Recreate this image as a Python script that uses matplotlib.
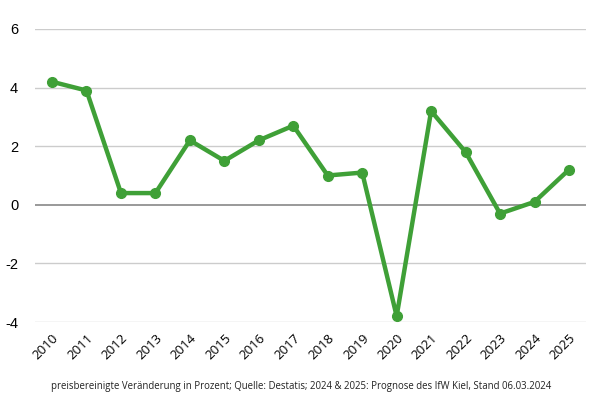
import matplotlib
matplotlib.use("Agg")
import matplotlib.pyplot as plt

years = [str(y) for y in range(2010, 2026)]
growth = [4.2, 3.9, 0.4, 0.4, 2.2, 1.5, 2.2, 2.7, 1.0, 1.1, -3.8, 3.2, 1.8, -0.3, 0.1, 1.2]
y_ticks = [-4, -2, 0, 2, 4, 6]
caption = ("preisbereinigte Veränderung in Prozent; Quelle: Destatis; "
           "2024 & 2025: Prognose des IfW Kiel, Stand 06.03.2024")

green = "#3fa037"

fig = plt.figure(figsize=(6, 4), dpi=100)
ax = fig.add_axes([0.058, 0.195, 0.919, 0.7325])

x = range(len(years))
ax.plot(x, growth, color=green, lw=3.2, marker="o", ms=7,
        solid_joinstyle="round", zorder=3, clip_on=False)

ax.set_xlim(-0.5, len(years) - 0.5)
ax.set_ylim(-4, 6)
ax.set_yticks(y_ticks)
for v in y_ticks:
    ax.axhline(v, color="#888888" if v == 0 else "#cccccc",
               lw=1.2 if v == 0 else 1.0, zorder=1)

ax.set_xticks(list(x))
ax.set_xticklabels(years, rotation=45, ha="right", rotation_mode="anchor",
                   fontfamily="Open Sans", fontsize=9.5)
ax.set_yticklabels([str(v) for v in y_ticks], fontfamily="Liberation Sans",
                   fontsize=10.5)
ax.tick_params(length=0)
ax.tick_params(axis="x", pad=7)
ax.tick_params(axis="y", pad=12)
for s in ax.spines.values():
    s.set_visible(False)

fig.text(0.502, 0.035, caption, ha="center", va="center",
         fontfamily="Open Sans", fontsize=6.9, color="#222222")

fig.savefig("out.png", dpi=100)
